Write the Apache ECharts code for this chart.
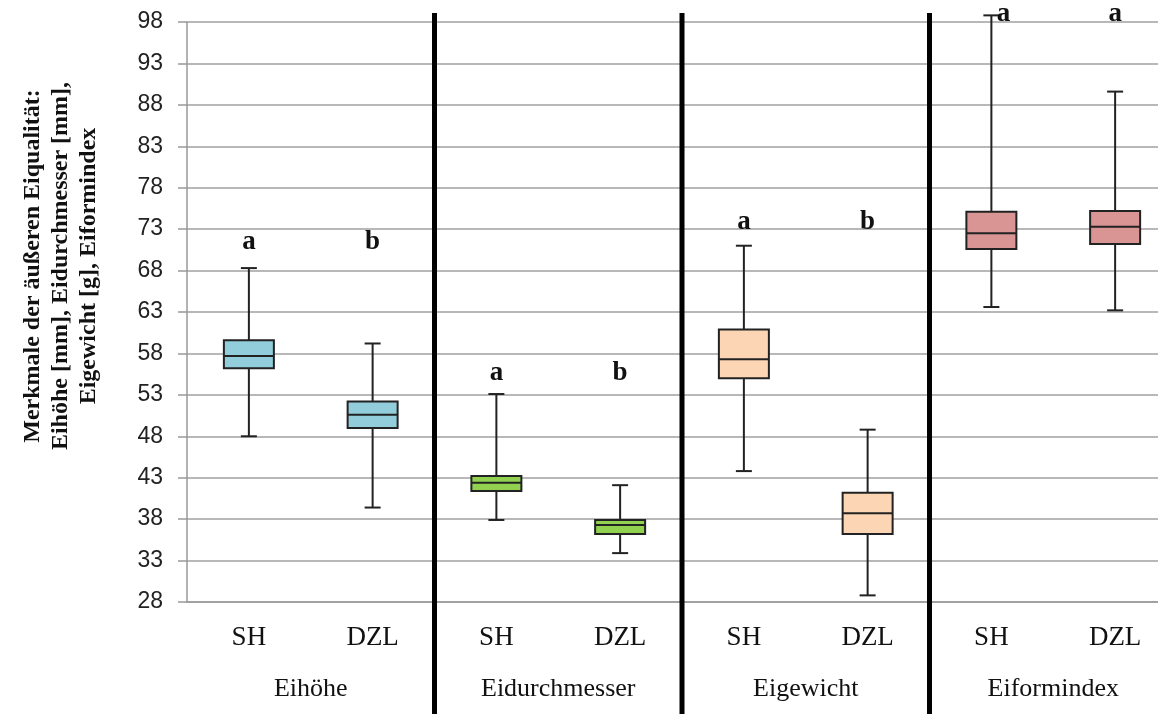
<!DOCTYPE html>
<html lang="de">
<head>
    <meta charset="UTF-8">
    <title>Merkmale der äußeren Eiqualität</title>
    <script src="https://cdn.jsdelivr.net/npm/echarts@6/dist/echarts.min.js"></script>
    <style>
        html, body { margin: 0; padding: 0; background: #fff; }
        #chart { width: 1158px; height: 714px; }
    </style>
</head>
<body>
    <div id="chart"></div>

    <script>
        // Kategorien (Herkunft) und Merkmalsgruppen
        const categories = ['SH', 'DZL', 'SH', 'DZL', 'SH', 'DZL', 'SH', 'DZL'];
        const groups = ['Eihöhe', 'Eidurchmesser', 'Eigewicht', 'Eiformindex'];

        // Boxplot-Werte: min, Q1, Median, Q3, max
        const whiskerMin = [48.0, 39.4, 37.9, 33.9, 43.8, 28.8, 63.6, 63.2];
        const quart1     = [56.2, 49.0, 41.4, 36.2, 55.0, 36.2, 70.6, 71.2];
        const medians    = [57.7, 50.6, 42.4, 37.3, 57.3, 38.7, 72.5, 73.3];
        const quart3     = [59.6, 52.2, 43.2, 37.9, 60.9, 41.2, 75.1, 75.2];
        const whiskerMax = [68.3, 59.2, 53.1, 42.1, 71.0, 48.8, 98.8, 89.6];

        // Signifikanzbuchstaben und ihre Höhe (Achsenwert)
        const letters = ['a', 'b', 'a', 'b', 'a', 'b', 'a', 'a'];
        const letterY = [71.4, 71.4, 55.6, 55.6, 73.9, 73.9, 99.0, 99.0];

        // Trennlinien zwischen den Gruppen (Kategoriegrenzen)
        const separators = [2, 4, 6];

        // y-Achse
        const yMin = 28, yMax = 98, yStep = 5;

        const boxColors = ['#92CDDC', '#92CDDC', '#92D050', '#92D050',
                           '#FCD5B5', '#FCD5B5', '#D99594', '#D99594'];

        const chart = echarts.init(document.getElementById('chart'));

        const boxData = categories.map((c, i) =>
            [i, whiskerMin[i], quart1[i], medians[i], quart3[i], whiskerMax[i]]);

        function renderBox(params, api) {
            const i = api.value(0);
            const pMin = api.coord([i, api.value(1)]);
            const pQ1 = api.coord([i, api.value(2)]);
            const pMed = api.coord([i, api.value(3)]);
            const pQ3 = api.coord([i, api.value(4)]);
            const pMax = api.coord([i, api.value(5)]);
            const x = pMed[0];
            const bw = 50, cw = 16;
            const line = { stroke: '#222', lineWidth: 2 };
            return {
                type: 'group',
                children: [
                    { type: 'line', shape: { x1: x, y1: pMax[1], x2: x, y2: pMin[1] }, style: line },
                    { type: 'line', shape: { x1: x - cw / 2, y1: pMax[1], x2: x + cw / 2, y2: pMax[1] }, style: line },
                    { type: 'line', shape: { x1: x - cw / 2, y1: pMin[1], x2: x + cw / 2, y2: pMin[1] }, style: line },
                    { type: 'rect', shape: { x: x - bw / 2, y: pQ3[1], width: bw, height: pQ1[1] - pQ3[1] },
                      style: { fill: boxColors[i], stroke: '#222', lineWidth: 2 } },
                    { type: 'line', shape: { x1: x - bw / 2, y1: pMed[1], x2: x + bw / 2, y2: pMed[1] }, style: line }
                ]
            };
        }

        function renderLetter(params, api) {
            const i = api.value(0);
            const p = api.coord([i, api.value(1)]);
            const shift = (i === 6) ? 12 : 0;
            return {
                type: 'text',
                x: p[0] + shift,
                y: p[1],
                style: {
                    text: letters[params.dataIndex],
                    textAlign: 'center',
                    textVerticalAlign: 'middle',
                    font: 'bold 27px "Liberation Serif", serif',
                    fill: '#111'
                }
            };
        }

        function renderSeparator(params, api) {
            const top = api.coord([api.value(0), 99.1]);
            return {
                type: 'line',
                shape: { x1: top[0], y1: top[1], x2: top[0], y2: api.getHeight() },
                style: { stroke: '#000', lineWidth: 5 }
            };
        }

        const option = {
            animation: false,
            grid: { left: 187, top: 22, height: 580, width: 990, outerBoundsMode: 'none', containLabel: false },
            xAxis: [
                {
                    type: 'category',
                    data: categories,
                    boundaryGap: true,
                    axisLine: { lineStyle: { color: '#999', width: 1.5 } },
                    axisTick: { length: 8, lineStyle: { color: '#999', width: 1.5 } },
                    axisLabel: {
                        margin: 22, color: '#111',
                        fontFamily: '"Liberation Serif", serif', fontSize: 27
                    }
                },
                {
                    type: 'value', min: 0, max: categories.length, show: false
                },
                {
                    type: 'category',
                    data: groups,
                    position: 'bottom',
                    axisLine: { show: false },
                    axisTick: { show: false },
                    axisLabel: {
                        margin: 74, color: '#111',
                        fontFamily: '"Liberation Serif", serif', fontSize: 26
                    }
                }
            ],
            yAxis: {
                type: 'value',
                min: yMin, max: yMax, interval: yStep,
                axisLine: { show: true, lineStyle: { color: '#999', width: 1.5 } },
                axisTick: { show: true, length: 9, lineStyle: { color: '#999', width: 1.5 } },
                splitLine: { lineStyle: { color: '#a0a0a0', width: 1.5 } },
                axisLabel: {
                    margin: 24, color: '#222',
                    fontFamily: '"Liberation Sans", sans-serif', fontSize: 23
                }
            },
            graphic: [{
                type: 'text',
                x: 61, y: 266,
                rotation: Math.PI / 2,
                style: {
                    text: 'Merkmale der äußeren Eiqualität:\nEihöhe [mm], Eidurchmesser [mm],\nEigewicht [g], Eiformindex',
                    textAlign: 'center',
                    textVerticalAlign: 'middle',
                    font: 'bold 24px "Liberation Serif", serif',
                    lineHeight: 28,
                    fill: '#111'
                }
            }],
            series: [
                {
                    type: 'custom', xAxisIndex: 0, renderItem: renderBox,
                    data: boxData, clip: false, z: 3
                },
                {
                    type: 'custom', xAxisIndex: 0, renderItem: renderLetter,
                    data: letterY.map((v, i) => [i, v]), clip: false, z: 4
                },
                {
                    type: 'custom', xAxisIndex: 1, renderItem: renderSeparator,
                    data: separators.map(s => [s]), clip: false, z: 5
                }
            ]
        };

        chart.setOption(option);
    </script>
</body>
</html>
